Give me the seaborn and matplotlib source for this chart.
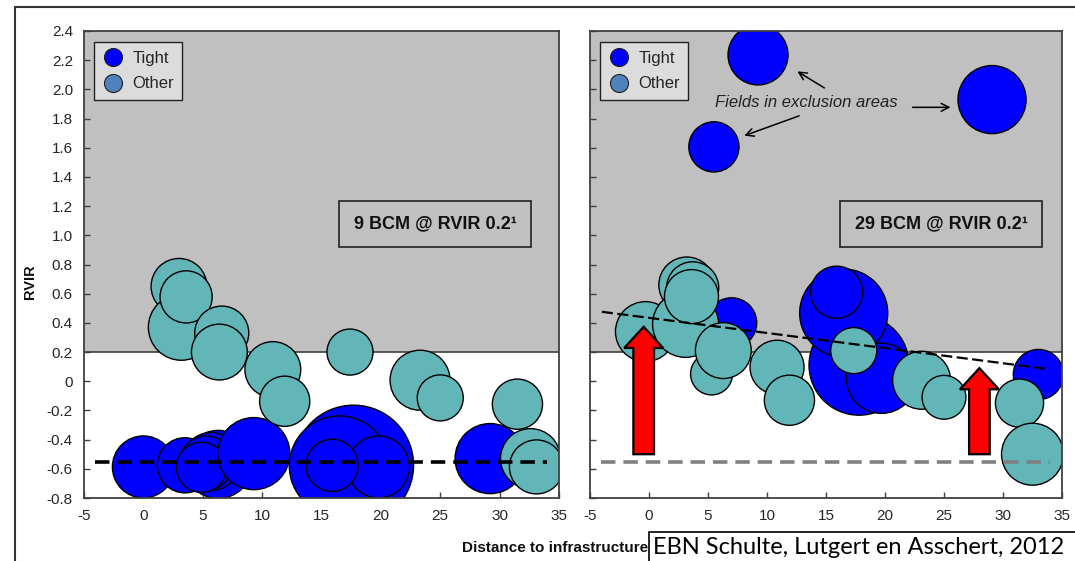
import matplotlib
matplotlib.use("Agg")
import matplotlib.pyplot as plt
from matplotlib.lines import Line2D
from matplotlib.patches import FancyArrow, Rectangle
import numpy as np
import pandas as pd
import seaborn as sns

# ---- data ----
# left panel: current situation
left_kind = ["Tight"] * 12 + ["Other"] * 13
left_dist = [0.0, 3.5, 6.3, 5.7, 5.3, 4.9, 9.3, 17.7, 16.5, 19.8, 15.9, 29.2,
             3.0, 3.2, 3.6, 6.6, 6.4, 10.9, 11.9, 17.4, 23.3, 25.0, 31.5, 32.6, 33.1]
left_rvir = [-0.587, -0.576, -0.57, -0.55, -0.56, -0.59, -0.496, -0.575, -0.58, -0.587, -0.576, -0.53,
             0.65, 0.37, 0.578, 0.33, 0.20, 0.08, -0.137, 0.20, 0.007, -0.114, -0.157, -0.53, -0.587]
left_vol = [96, 76, 116, 84, 73, 63, 130, 360, 250, 96, 68, 123,
            78, 109, 68, 73, 78, 78, 63, 53, 90, 53, 63, 90, 73]

# right panel: with improved technology
right_kind = ["Tight"] * 9 + ["Other"] * 14
right_dist = [17.8, 19.7, 16.5, 15.9, 7.0, 9.24, 5.5, 29.07, 33.0,
              3.2, 3.7, -0.3, 3.1, 3.6, 5.3, 6.3, 10.85, 11.9, 17.35, 23.1, 25.0, 31.4, 32.5]
right_rvir = [0.11, 0.02, 0.467, 0.61, 0.40, 2.236, 1.606, 1.93, 0.046,
              0.66, 0.64, 0.34, 0.39, 0.58, 0.05, 0.21, 0.096, -0.13, 0.21, 0.007, -0.11, -0.15, -0.50]
right_vol = [250, 123, 194, 68, 63, 90, 63, 116, 63,
             78, 68, 90, 109, 73, 44, 78, 73, 63, 53, 84, 48, 58, 96]

cutoff_rvir = 0.2
base_dist = [-4.1, 34.0]
base_rvir = [-0.55, -0.55]
trend_dist = [-4.0, 33.7]
trend_rvir = [0.476, 0.085]
shift_dist = [-0.45, 28.0]
shift_from = [-0.5, -0.5]
shift_to = [0.373, 0.09]

x_ticks = list(range(-5, 36, 5))
y_ticks = [round(v, 1) for v in np.arange(-0.8, 2.41, 0.2)]
y_labels = ["0" if v == 0 else f"{v:.1f}" for v in y_ticks]

BLUE = "#0000FF"
TEAL = "#62B6B7"
GREY_BG = "#C0C0C0"
SPINE = "#404040"

sns.set_style("white")
plt.rcParams["font.family"] = ["Liberation Sans", "DejaVu Sans"]
plt.rcParams["axes.unicode_minus"] = False

fig = plt.figure(figsize=(10.75, 5.61), dpi=100)
W, H = 1075, 561
ax_l = fig.add_axes([84 / W, 63 / H, 475 / W, 467 / H])
ax_r = fig.add_axes([590 / W, 63 / H, 472 / W, 467 / H])

VMAX = 400
SCALE = 2.0736 * 10  # pt^2 per volume unit at 100 dpi


def bubbles(ax, dist, rvir, vol, kind):
    df = pd.DataFrame({"dist": dist, "rvir": rvir, "vol": vol, "kind": kind})
    ax.axhspan(cutoff_rvir, 2.4, facecolor=GREY_BG, edgecolor="none", zorder=0)
    ax.axhline(cutoff_rvir, color=SPINE, lw=1.2, zorder=1)
    sns.scatterplot(df, x="dist", y="rvir", hue="kind", size="vol",
                    palette={"Tight": BLUE, "Other": TEAL},
                    sizes=(0, SCALE * VMAX), size_norm=(0, VMAX),
                    edgecolor="black", linewidth=1.0, alpha=1, legend=False,
                    ax=ax, zorder=2)
    ax.set_xlim(-5, 35)
    ax.set_ylim(-0.8, 2.4)
    ax.set_xticks(x_ticks)
    ax.set_yticks(y_ticks)
    ax.set_xlabel("")
    ax.set_ylabel("")
    ax.tick_params(direction="in", length=4, width=1, color=SPINE,
                   labelsize=11, pad=8, left=True, bottom=True)
    for sp in ax.spines.values():
        sp.set_visible(True)
        sp.set_color(SPINE)
        sp.set_linewidth(1.3)
    handles = [
        Line2D([], [], marker="o", ls="", markersize=13, markerfacecolor=BLUE,
               markeredgecolor="#222222", markeredgewidth=0.8, label="Tight"),
        Line2D([], [], marker="o", ls="", markersize=13, markerfacecolor="#4F81BD",
               markeredgecolor="#222222", markeredgewidth=0.8, label="Other"),
    ]
    leg = ax.legend(handles=handles, loc="upper left", bbox_to_anchor=(0.021, 0.976),
                    borderaxespad=0, frameon=True, fancybox=False, fontsize=12,
                    labelspacing=0.65, handletextpad=0.5, borderpad=0.5,
                    handlelength=1.3)
    leg.get_frame().set_facecolor("#DCDCDC")
    leg.get_frame().set_edgecolor("#222222")
    leg.get_frame().set_linewidth(1.0)
    leg.get_frame().set_alpha(1)


bubbles(ax_l, left_dist, left_rvir, left_vol, left_kind)
bubbles(ax_r, right_dist, right_rvir, right_vol, right_kind)

ax_l.set_yticklabels(y_labels)
ax_r.set_yticklabels([])

# reference lines
ax_l.plot(base_dist, base_rvir, color="black", lw=2.6, dashes=(4, 2.2), zorder=3)
ax_r.plot(base_dist, base_rvir, color="#808080", lw=2.6, dashes=(4, 2.2), zorder=3)
ax_r.plot(trend_dist, trend_rvir, color="black", lw=1.6, dashes=(5, 2), zorder=3)

# red shift arrows
for x0, y0, y1 in zip(shift_dist, shift_from, shift_to):
    ax_r.add_patch(FancyArrow(x0, y0, 0, y1 - y0, width=1.75, head_width=3.3,
                              head_length=0.145, length_includes_head=True,
                              facecolor="#FF0000", edgecolor="black", lw=1.6, zorder=4))

# annotations
box = dict(boxstyle="square,pad=0.8", facecolor="none", edgecolor="#222222", lw=1.2)
ax_l.text(24.56, 1.078, "9 BCM @ RVIR 0.2\u00b9", ha="center", va="center",
          fontsize=13, fontweight="bold", color="#111111", bbox=box)
ax_r.text(24.75, 1.078, "29 BCM @ RVIR 0.2\u00b9", ha="center", va="center",
          fontsize=13, fontweight="bold", color="#111111", bbox=box)

ax_r.text(13.3, 1.907, "Fields in exclusion areas", ha="center", va="center",
          fontsize=12, fontstyle="italic", color="#222222")
arrow = dict(arrowstyle="->", color="black", lw=1.1, mutation_scale=14)
ax_r.annotate("", xy=(12.37, 2.133), xytext=(15.06, 2.0), arrowprops=arrow)
ax_r.annotate("", xy=(7.85, 1.676), xytext=(12.94, 1.825), arrowprops=arrow)
ax_r.annotate("", xy=(25.8, 1.877), xytext=(22.1, 1.877), arrowprops=arrow)

# axis titles
fig.text(30 / W, 1 - 282 / H, "RVIR", rotation=90, ha="center", va="center",
         fontsize=10.5, fontweight="bold", color="#111111")
fig.text(648 / W, 1 - 548 / H, "Distance to infrastructure", ha="right", va="center",
         fontsize=11, fontweight="bold", color="#111111")

# outer slide frame
fig.add_artist(Line2D([15 / W, 1], [1 - 7 / H, 1 - 7 / H], color="#333333", lw=1.5))
fig.add_artist(Line2D([15 / W, 15 / W], [0, 1 - 7 / H], color="#333333", lw=1.5))

# source box
fig.add_artist(Rectangle((649 / W, -5 / H), 440 / W, 34 / H, facecolor="white",
                         edgecolor="black", lw=1.2, transform=fig.transFigure))
fig.text(653 / W, 1 - 547 / H, "EBN Schulte, Lutgert en Asschert, 2012",
         ha="left", va="center", fontsize=17, family=["Lato", "DejaVu Sans"], color="black")

fig.savefig("out.png", dpi=100)
